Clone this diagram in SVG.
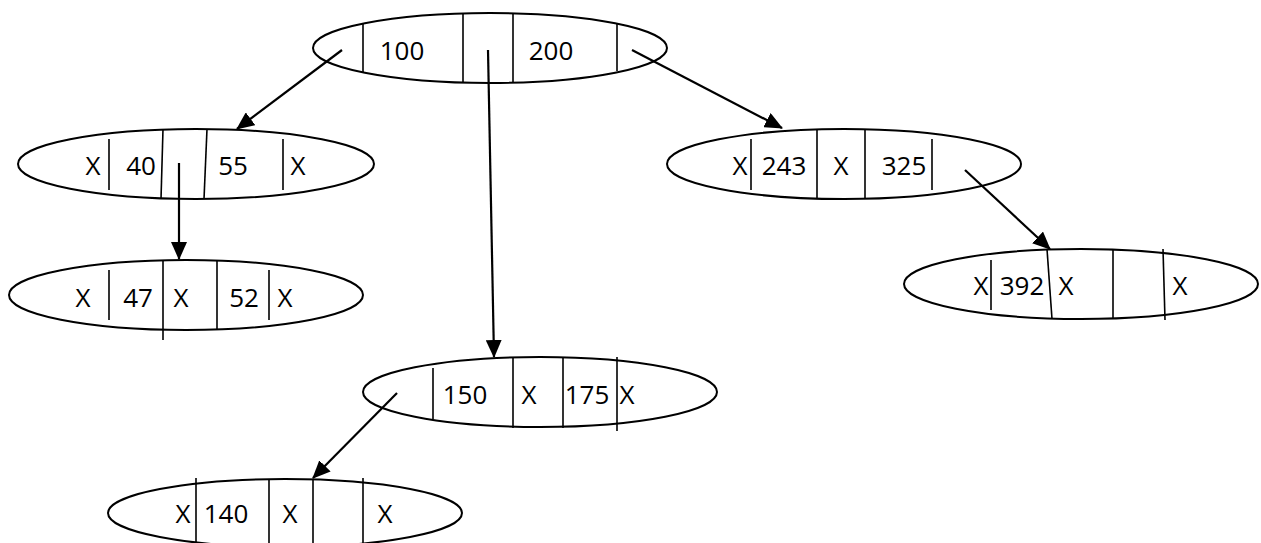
<svg xmlns="http://www.w3.org/2000/svg" width="1261" height="543" viewBox="0 0 1261 543">
<style>
.n ellipse{fill:#fff;stroke:#000;stroke-width:2}
.n line{stroke:#000;stroke-width:1.6}
.n text{font-family:"Open Sans","Liberation Sans",sans-serif;font-size:26px;fill:#000;text-anchor:middle}
.c line{stroke:#000;stroke-width:2.2;marker-end:url(#ah)}
</style>
<defs>
<marker id="ah" markerUnits="userSpaceOnUse" markerWidth="20" markerHeight="16" refX="17" refY="8" orient="auto">
<path d="M0,0 L18,8 L0,16 Z" fill="#000"/>
</marker>
</defs>
<rect width="1261" height="543" fill="#fff"/>
<g id="n100" class="n">
<ellipse cx="490" cy="48" rx="177" ry="35"/>
<line x1="363" y1="24" x2="363" y2="72"/>
<line x1="463" y1="13" x2="463" y2="82"/>
<line x1="513" y1="13" x2="513" y2="82"/>
<line x1="617" y1="24" x2="617" y2="71"/>
<text x="402" y="60">100</text>
<text x="551" y="60">200</text>
</g>
<g id="n40" class="n">
<ellipse cx="196" cy="164" rx="178" ry="35"/>
<line x1="109" y1="139" x2="109" y2="190"/>
<line x1="163" y1="129" x2="161" y2="199"/>
<line x1="207" y1="129" x2="204" y2="199"/>
<line x1="283" y1="139" x2="283" y2="190"/>
<text x="93" y="175">X</text>
<text x="141" y="175">40</text>
<text x="233" y="175">55</text>
<text x="298" y="175">X</text>
</g>
<g id="n47" class="n">
<ellipse cx="186" cy="295" rx="177" ry="35"/>
<line x1="109" y1="270" x2="109" y2="320"/>
<line x1="163" y1="260" x2="163" y2="340"/>
<line x1="217" y1="260" x2="217" y2="330"/>
<line x1="269" y1="270" x2="269" y2="320"/>
<text x="83" y="307">X</text>
<text x="138" y="307">47</text>
<text x="181" y="307">X</text>
<text x="244" y="307">52</text>
<text x="285" y="307">X</text>
</g>
<g id="n243" class="n">
<ellipse cx="844" cy="164" rx="177" ry="35"/>
<line x1="751" y1="139" x2="751" y2="190"/>
<line x1="817" y1="129" x2="817" y2="199"/>
<line x1="865" y1="129" x2="865" y2="199"/>
<line x1="932" y1="139" x2="932" y2="190"/>
<text x="740" y="175">X</text>
<text x="784" y="175">243</text>
<text x="841" y="175">X</text>
<text x="904" y="175">325</text>
</g>
<g id="n392" class="n">
<ellipse cx="1081" cy="284" rx="177" ry="35"/>
<line x1="991" y1="260" x2="991" y2="310"/>
<line x1="1047" y1="249" x2="1052" y2="319"/>
<line x1="1113" y1="249" x2="1113" y2="319"/>
<line x1="1163" y1="249" x2="1165" y2="320"/>
<text x="981" y="295">X</text>
<text x="1022" y="295">392</text>
<text x="1066" y="295">X</text>
<text x="1180" y="295">X</text>
</g>
<g id="n150" class="n">
<ellipse cx="540" cy="392" rx="177" ry="35"/>
<line x1="433" y1="368" x2="433" y2="419"/>
<line x1="513" y1="357" x2="513" y2="428"/>
<line x1="563" y1="357" x2="563" y2="428"/>
<line x1="617" y1="357" x2="617" y2="431"/>
<text x="465" y="404">150</text>
<text x="529" y="404">X</text>
<text x="587" y="404">175</text>
<text x="627" y="404">X</text>
</g>
<g id="n140" class="n">
<ellipse cx="285" cy="513" rx="177" ry="34"/>
<line x1="196" y1="478" x2="196" y2="543"/>
<line x1="269" y1="479" x2="269" y2="543"/>
<line x1="313" y1="479" x2="313" y2="543"/>
<line x1="363" y1="478" x2="363" y2="543"/>
<text x="183" y="523">X</text>
<text x="226" y="523">140</text>
<text x="290" y="523">X</text>
<text x="385" y="523">X</text>
</g>
<g id="connectors" class="c">
<line x1="342" y1="50" x2="237" y2="129"/>
<line x1="488" y1="50" x2="494" y2="357"/>
<line x1="632" y1="50" x2="782" y2="128"/>
<line x1="179" y1="163" x2="179" y2="259"/>
<line x1="965" y1="170" x2="1050" y2="249"/>
<line x1="397" y1="393" x2="313" y2="478"/>
</g>
</svg>
